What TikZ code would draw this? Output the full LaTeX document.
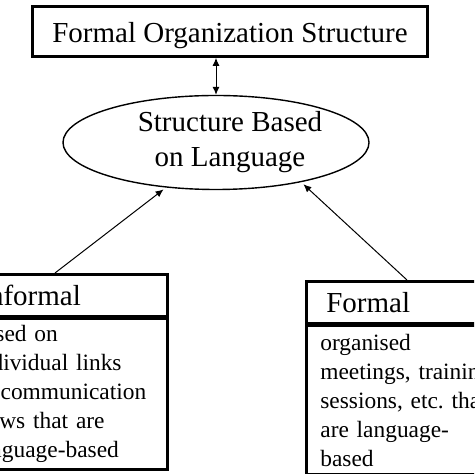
\documentclass[tikz,border=0pt]{standalone}
\usepackage{fontspec}
\setmainfont{Liberation Serif}
\usetikzlibrary{positioning,shapes.geometric,arrows.meta}
\newcommand{\bigfont}{\fontsize{14.5pt}{17.5pt}\selectfont}
\newcommand{\smallfont}{\fontsize{11.7pt}{14.5pt}\selectfont}
\tikzset{
  boxhead/.style={draw, line width=1.35pt, inner xsep=10pt, text width=84pt,
    align=left, minimum height=21pt, font=\bigfont, anchor=north west},
  boxbody/.style={draw, line width=1.35pt, inner xsep=7pt, text width=90pt,
    align=left, minimum height=74pt, font=\smallfont},
  arr/.style={-{Latex[length=4pt,width=3.5pt]}, line width=0.5pt, shorten >=1.5pt}
}
\begin{document}
\begin{tikzpicture}[x=0.5pt,y=-0.5pt]
	\useasboundingbox (0,0) rectangle (474,474);
	\clip (0,0) rectangle (474,474);
	\node[draw, line width=1.35pt, minimum width=197.7pt, minimum height=25pt,
	  inner sep=0pt, text height=11.5pt, text depth=0pt, font=\bigfont]
	  (org) at (230,31.5) {Formal Organization Structure};
	\node[draw, ellipse, line width=0.7pt, minimum width=153pt,
	  minimum height=47pt, inner sep=0pt] (lang) at (216,142.5) {};
	\node[align=center, font=\bigfont] (langtext) at (230,142.5)
	  {Structure Based\\on Language};
	% the two boxes below
	\node[boxhead] (inf) at (-42,273) {Informal};
	\node[boxbody, below=0pt of inf] (infbody)
	  {based on\\individual links\\or communication\\flows that are\\language-based};
	\node[boxhead] (form) at (305,280) {Formal};
	\node[boxbody, below=0pt of form] (formbody)
	  {organised\\meetings, training\\sessions, etc.\ that\\are language-\\based};
	\draw[{Latex[length=4pt,width=3.5pt]}-{Latex[length=4pt,width=3.5pt]}, line width=0.5pt]
	  (lang.north |- org.south) -- (lang.north);
	\draw[arr] ([xshift=48.5pt]inf.north west) -- (lang.222);
	\draw[arr] ([xshift=51pt]form.north west) -- (lang.-25);
\end{tikzpicture}
\end{document}
